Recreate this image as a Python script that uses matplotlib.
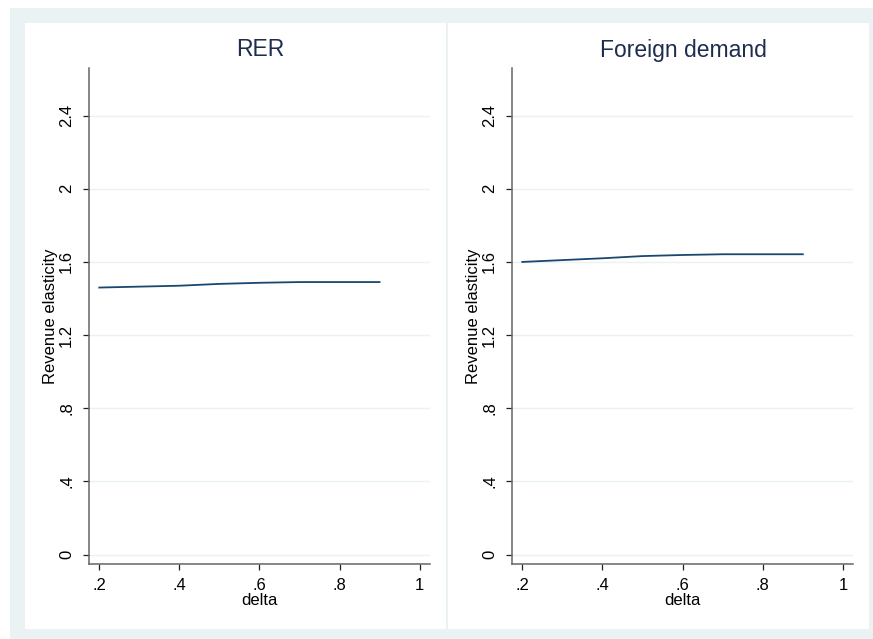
import matplotlib
matplotlib.use("Agg")
import matplotlib.pyplot as plt
from matplotlib.patches import Rectangle
from matplotlib.ticker import FixedLocator, FixedFormatter

# revenue elasticity by delta, one series per shock
delta = [0.2, 0.4, 0.5, 0.6, 0.7, 0.8, 0.9]
rer = [1.46, 1.47, 1.48, 1.486, 1.49, 1.49, 1.49]
foreign = [1.60, 1.62, 1.632, 1.638, 1.642, 1.642, 1.642]

panel_titles = ["RER", "Foreign demand"]
xticks = [0.2, 0.4, 0.6, 0.8, 1.0]
xtick_labels = [".2", ".4", ".6", ".8", "1"]
yticks = [0, 0.4, 0.8, 1.2, 1.6, 2.0, 2.4]
ytick_labels = ["0", ".4", ".8", "1.2", "1.6", "2", "2.4"]

W, H = 873, 639
BG = "#eaf2f3"
NAVY = "#1a476f"
TITLE = "#1e2d4f"
FS = 12

plt.rcParams["font.family"] = ["Liberation Sans", "DejaVu Sans"]

fig = plt.figure(figsize=(W / 100, H / 100), dpi=100)
fig.patch.set_facecolor("white")


def px(x0, y0, x1, y1):
    # pixel box (top-left origin) -> figure fraction rect
    return [x0 / W, 1 - y1 / H, (x1 - x0) / W, (y1 - y0) / H]


r = px(10, 8, W, H)
fig.patches.append(Rectangle((r[0], r[1]), r[2], r[3], transform=fig.transFigure,
                             facecolor=BG, edgecolor="none", zorder=-3))
for x0, x1 in [(25, 446), (448, 869)]:
    r = px(x0, 23, x1, 629)
    fig.patches.append(Rectangle((r[0], r[1]), r[2], r[3], transform=fig.transFigure,
                                 facecolor="white", edgecolor="none", zorder=-2))

series = [rer, foreign]
axes_px = [(88.7, 68, 430, 564), (511.7, 68, 853.3, 564)]
title_x = [260, 683]

for i, (x0, y0, x1, y1) in enumerate(axes_px):
    ax = fig.add_axes(px(x0, y0, x1, y1))
    ax.set_facecolor("none")
    ax.plot(delta, series[i], color=NAVY, lw=1.3)

    ax.set_xlim(0.1736, 1.026)
    ax.set_ylim(-0.051, 2.66)

    ax.xaxis.set_major_locator(FixedLocator(xticks))
    ax.xaxis.set_major_formatter(FixedFormatter(xtick_labels))
    ax.yaxis.set_major_locator(FixedLocator(yticks))
    ax.yaxis.set_major_formatter(FixedFormatter(ytick_labels))
    for t in ax.get_yticklabels():
        t.set_rotation(90)
        t.set_va("center")

    ax.grid(axis="y", color=BG, lw=1)
    ax.set_axisbelow(True)
    for s in ["top", "right"]:
        ax.spines[s].set_visible(False)
    for s in ["left", "bottom"]:
        ax.spines[s].set_color("#666666")
        ax.spines[s].set_linewidth(1.1)
    ax.tick_params(direction="out", length=4.5, width=0.9, color="#222222",
                   labelsize=FS, labelcolor="black")
    ax.tick_params(axis="x", pad=5.5)
    ax.tick_params(axis="y", pad=6)

    ax.set_xlabel("delta", fontsize=FS, labelpad=0)
    ax.set_ylabel("Revenue elasticity", fontsize=FS, labelpad=1)

    fig.text(title_x[i] / W, 1 - 50 / H, panel_titles[i], ha="center", va="center",
             fontsize=16.5, color=TITLE)

fig.savefig("out.png", dpi=100)
